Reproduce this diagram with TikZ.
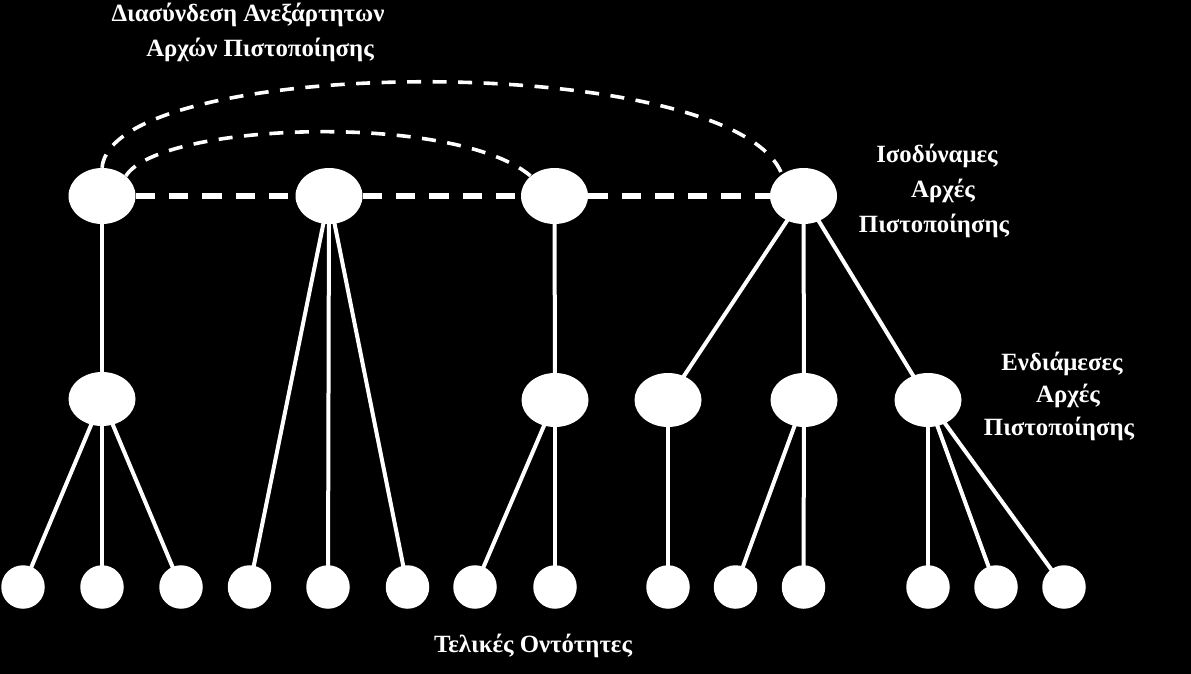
\documentclass[tikz,border=0pt]{standalone}
\usepackage{fontspec}
\setmainfont{Liberation Serif}
\usetikzlibrary{shapes.geometric}
\begin{document}
\begin{tikzpicture}[x=1pt,y=-1pt,
  ca/.style={ellipse,fill=white,draw=none,minimum width=67pt,minimum height=56pt,inner sep=0pt},
  leaf/.style={circle,fill=white,draw=none,minimum size=43.5pt,inner sep=0pt},
  link/.style={white,line width=4pt},
  peer/.style={white,line width=5.5pt,dash pattern=on 19.3pt off 14pt},
  cross/.style={white,line width=3.6pt,dash pattern=on 14pt off 11.5pt},
  lbl/.style={text=white,font=\bfseries\fontsize{24.8}{28}\selectfont,anchor=base,inner sep=0pt}]
\fill[black] (0,0) rectangle (1191,674);
\useasboundingbox (0,0) rectangle (1191,674);
% top level
\node[ca] (t1) at (102,196) {};
\node[ca] (t2) at (329,196) {};
\node[ca] (t3) at (554.5,196) {};
\node[ca] (t4) at (803.5,196) {};
% middle level
\node[ca,minimum height=54pt] (m1) at (102,399) {};
\node[ca,minimum height=54pt] (m3) at (555,400) {};
\node[ca,minimum height=54pt] (m4) at (668,400) {};
\node[ca,minimum height=54pt] (m5) at (804,400) {};
\node[ca,minimum height=54pt] (m6) at (928,400) {};
% leaves
\foreach \n/\x in {l1/23,l2/102,l3/181,l4/249.5,l5/328,l6/407.5,l7/475,l8/555,l9/668,l10/735.5,l11/803.5,l12/928,l13/996,l14/1064}
  \node[leaf] (\n) at (\x,587) {};
% links
\draw[link] (t1.center) -- (m1.center);
\foreach \l in {l1,l2,l3} \draw[link] (m1.center) -- (\l.center);
\foreach \l in {l4,l5,l6} \draw[link] (t2.center) -- (\l.center);
\draw[link] (t3.center) -- (m3.center);
\foreach \l in {l7,l8} \draw[link] (m3.center) -- (\l.center);
\foreach \m in {m4,m5,m6} \draw[link] (t4.center) -- (\m.center);
\draw[link] (m4.center) -- (l9.center);
\foreach \l in {l10,l11} \draw[link] (m5.center) -- (\l.center);
\foreach \l in {l12,l13,l14} \draw[link] (m6.center) -- (\l.center);
% peer links
\draw[peer] (t1) -- (t2);
\draw[peer] (t2) -- (t3);
\draw[peer] (t3) -- (t4);
% cross-certification arcs
\draw[cross] (t1.40) .. controls (160,122) and (455,112) .. (t3.140);
\draw[cross] (t1.north) .. controls (112,54) and (735,50) .. (t4.135);
% labels
\node[lbl] (a1) at (248,22) {Διασύνδεση Ανεξάρτητων};
\node[lbl] (a2) at (260,57) {Αρχών Πιστοποίησης};
\node[lbl] (b1) at (937,162) {Ισοδύναμες};
\node[lbl] (b2) at (943,197) {Αρχές};
\node[lbl] (b3) at (934,232) {Πιστοποίησης};
\node[lbl] (c1) at (1062,370) {Ενδιάμεσες};
\node[lbl] (c2) at (1068,402) {Αρχές};
\node[lbl] (c3) at (1059,435) {Πιστοποίησης};
\node[lbl] (d1) at (533,652) {Τελικές Οντότητες};
\end{tikzpicture}
\end{document}
